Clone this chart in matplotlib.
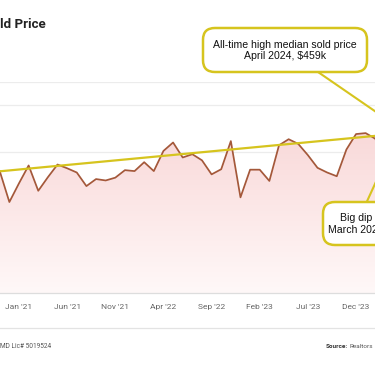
import numpy as np
import matplotlib
matplotlib.use('Agg')
import matplotlib.pyplot as plt
from matplotlib.patches import FancyBboxPatch
from matplotlib.lines import Line2D
from matplotlib.colors import LinearSegmentedColormap

# monthly median sold price ($k), Nov '20 .. Apr '24
prices = [360, 294, 334, 372, 318, 347, 374, 366, 357, 328, 343, 340,
          346, 362, 360, 379, 360, 403, 421, 389, 396, 383, 353, 364,
          424, 304, 363, 363, 339, 415, 428, 418, 394, 367, 357, 349,
          406, 439, 441, 429, 379, 459]
# straight trend line, first and last month
trend = [359.5, 439]
tick_pos = [2, 7, 12, 17, 22, 27, 32, 37]
tick_labels = ["Jan '21", "Jun '21", "Nov '21", "Apr '22",
               "Sep '22", "Feb '23", "Jul '23", "Dec '23"]
grid_vals = [200, 300, 400, 500, 550]

W, H = 375, 366
yel = '#d6c41e'
x = np.arange(len(prices))


def fx(px):
    return px / W


def fy(py):
    return 1 - py / H


fig = plt.figure(figsize=(W / 100, H / 100), dpi=100)
ax = fig.add_axes([0, fy(293), 1, (293 - 82) / H])
ax.set_xlim(0.027, 38.97)
ax.set_ylim(100, 550)

for g in grid_vals:
    ax.axhline(g, color='#ececec', lw=0.9, zorder=0)

# pink gradient under the line
cmap = LinearSegmentedColormap.from_list('pk', ['#fff8f8', '#f7cfcf'])
grad = np.linspace(0, 1, 256).reshape(-1, 1)
poly = ax.fill_between(x, prices, 100, color='none', lw=0)
im = ax.imshow(grad, extent=[0, len(prices), 100, 550], origin='lower',
               aspect='auto', cmap=cmap, zorder=1)
im.set_clip_path(poly.get_paths()[0], transform=ax.transData)

ax.plot(x, prices, color='#a4583a', lw=1.25, zorder=3)
ax.plot([x[0], x[-1]], trend, color=yel, lw=1.6, zorder=4)

ax.set_xticks(tick_pos)
ax.set_xticklabels(tick_labels, fontsize=6, color='#666666', family='Roboto')
ax.tick_params(axis='x', length=0, pad=8)
ax.set_yticks([])
for s in ['top', 'left', 'right']:
    ax.spines[s].set_visible(False)
ax.spines['bottom'].set_color('#dddddd')
ax.spines['bottom'].set_linewidth(0.9)

# callout pointers
ax.annotate('', xy=(41, 459), xytext=(fx(318), fy(72)),
            textcoords='figure fraction',
            arrowprops=dict(arrowstyle='-', color=yel, lw=1.5,
                            shrinkA=0, shrinkB=0),
            annotation_clip=False)
ax.annotate('', xy=(40, 379), xytext=(fx(366.7), fy(202)),
            textcoords='figure fraction',
            arrowprops=dict(arrowstyle='-', color=yel, lw=1.5,
                            shrinkA=0, shrinkB=0),
            annotation_clip=False)

# callout boxes
for (x0, x1, y0, y1) in [(203, 367, 28, 72), (323, 389, 202, 245)]:
    box = FancyBboxPatch((fx(x0), fy(y1)), fx(x1) - fx(x0), fy(y0) - fy(y1),
                         boxstyle='round,pad=0,rounding_size=0.032',
                         transform=fig.transFigure, facecolor='white',
                         edgecolor=yel, lw=1.8, zorder=10)
    fig.add_artist(box)

fig.text(fx(285), fy(50.5), 'All-time high median sold price\nApril 2024, $459k',
         ha='center', va='center', fontsize=7.6, family='Liberation Sans',
         linespacing=1.2, color='#111111', zorder=11)
fig.text(fx(356), fy(224), 'Big dip\nMarch 2024',
         ha='center', va='center', fontsize=7.6, family='Liberation Sans',
         linespacing=1.2, color='#111111', zorder=11)

# title, as far as it is visible in the reference
fig.text(fx(0.5), fy(24), 'ld Price', ha='left', va='center',
         fontsize=9.6, fontweight='bold', family='Roboto', color='#222222')

# footer
fig.add_artist(Line2D([0, 1], [fy(328), fy(328)], color='#e3e3e3', lw=0.9,
                      transform=fig.transFigure))
fig.text(fx(0.5), fy(347), 'MD Lic# 5019524', ha='left', va='center',
         fontsize=4.7, family='Roboto', color='#555555')
src = fig.text(fx(325.5), fy(347), 'Source:', ha='left', va='center',
               fontsize=4.6, family='Roboto', fontweight='bold', color='#333333')
fig.canvas.draw()
bb = src.get_window_extent()
fig.text(fx(bb.x1 + 2), fy(347), 'Realtors', ha='left', va='center',
         fontsize=4.6, family='Roboto', color='#555555')

fig.savefig('out.png', dpi=100)
